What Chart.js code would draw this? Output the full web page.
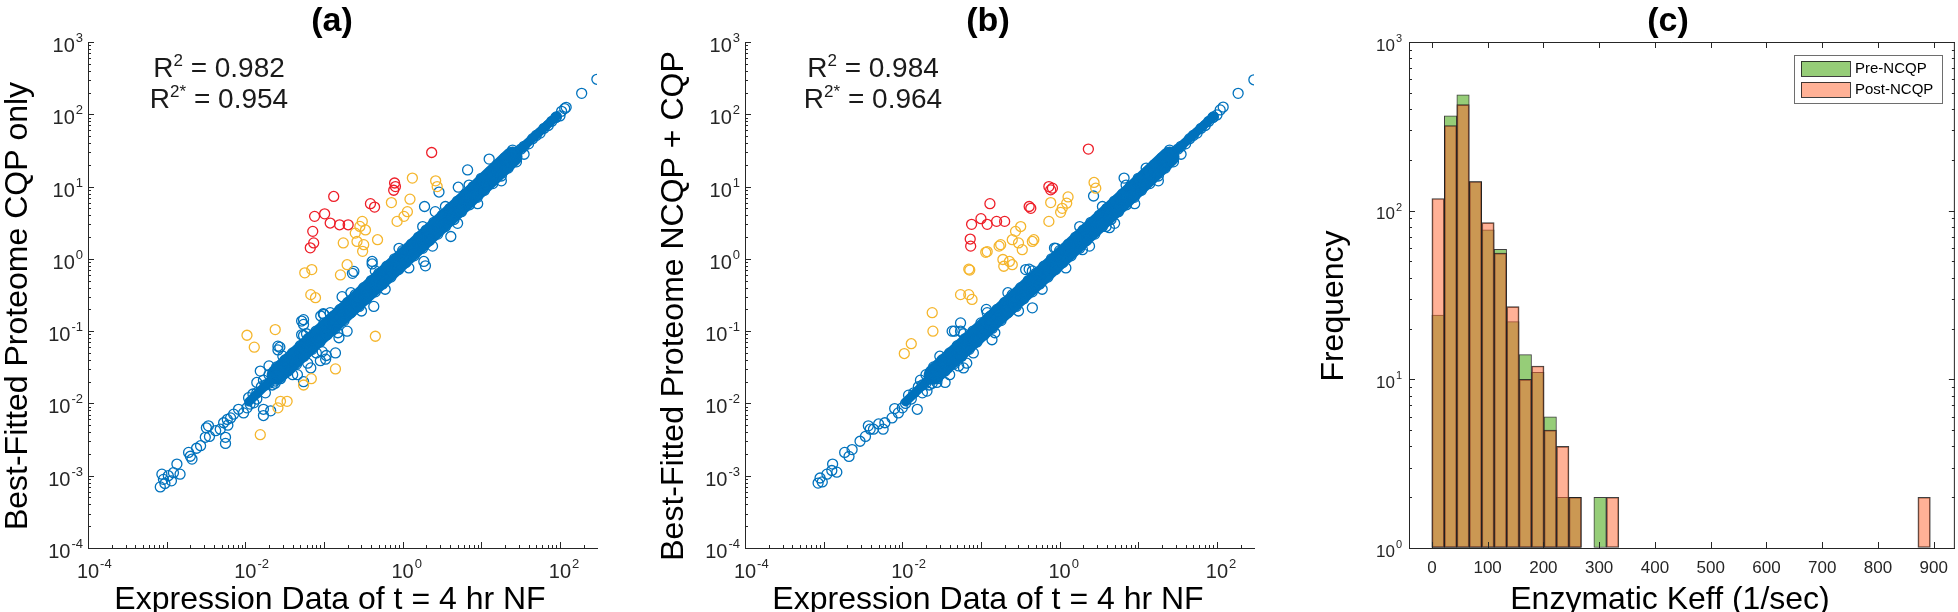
<!DOCTYPE html>
<html>
<head>
<meta charset="utf-8">
<script src="https://cdn.jsdelivr.net/npm/chart.js@4.4.1/dist/chart.umd.min.js"></script>
<style>
  html, body { margin: 0; padding: 0; background: #fff; }
  #wrap { position: relative; width: 1958px; height: 612px; overflow: hidden; }
  canvas { position: absolute; top: 0; }
</style>
</head>
<body>
<div id="wrap">
  <canvas id="chartA" width="650" height="612" style="left:0px"></canvas>
  <canvas id="chartB" width="650" height="612" style="left:650px"></canvas>
  <canvas id="chartC" width="658" height="612" style="left:1300px"></canvas>
</div>
<script>
// ---- data ----

// dense diagonal band, same expression data in (a) and (b)
const bandPoints = [
  [0.014,0.014],[0.016,0.017],[0.018,0.018],[0.020,0.019],[0.022,0.023],[0.025,0.025],[0.028,0.027],[0.032,0.032],[0.035,0.036],[0.040,0.040],[0.045,0.044],[0.050,0.051],[0.056,0.056],[0.063,0.062],[0.071,0.072],[0.079,0.079],[0.089,0.088],
  [0.10,0.10],[0.11,0.11],[0.13,0.13],[0.14,0.14],[0.16,0.16],[0.18,0.18],[0.20,0.20],[0.22,0.22],[0.25,0.25],[0.28,0.28],[0.32,0.32],[0.35,0.35],[0.40,0.40],[0.45,0.45],[0.50,0.50],[0.56,0.56],[0.63,0.63],[0.71,0.71],[0.79,0.79],[0.89,0.89],
  [1.0,1.0],[1.1,1.1],[1.3,1.3],[1.4,1.4],[1.6,1.6],[1.8,1.8],[2.0,2.0],[2.2,2.2],[2.5,2.5],[2.8,2.8],[3.2,3.2],[3.5,3.5],[4.0,4.0],[4.5,4.5],[5.0,5.0],[5.6,5.6],[6.3,6.3],[7.1,7.1],[7.9,7.9],[8.9,8.9],
  [10,10],[11,11],[13,13],[14,14],[16,16],[18,18],[20,20],[22,22],[25,25],[28,28],[32,33],[35,36],[40,39],[45,46],[50,51],[56,55],[63,64],[71,70],[79,80],[89,90],
  [0.020,0.025],[0.025,0.032],[0.032,0.040],[0.040,0.050],[0.050,0.063],[0.063,0.079],[0.079,0.10],
  [0.10,0.13],[0.13,0.16],[0.16,0.20],[0.20,0.25],[0.25,0.32],[0.32,0.40],[0.40,0.50],[0.50,0.63],[0.63,0.79],[0.79,1.0],
  [1.0,1.3],[1.3,1.6],[1.6,2.0],[2.0,2.5],[2.5,3.2],[3.2,4.0],[4.0,5.0],[5.0,6.3],[6.3,7.9],[7.9,10],
  [10,13],[13,16],[16,20],[20,25],[25,32],
  [0.018,0.014],[0.022,0.018],[0.028,0.022],[0.035,0.028],[0.045,0.035],[0.056,0.045],[0.071,0.056],[0.089,0.071],
  [0.11,0.089],[0.14,0.11],[0.18,0.14],[0.22,0.18],[0.28,0.22],[0.35,0.28],[0.45,0.35],[0.56,0.45],[0.71,0.56],[0.89,0.71],
  [1.1,0.89],[1.4,1.1],[1.8,1.4],[2.2,1.8],[2.8,2.2],[3.5,2.8],[4.5,3.5],[5.6,4.5],[7.1,5.6],[8.9,7.1],
  [11,8.9],[14,11],[18,14],[22,18],[28,22],[35,28],
  [0.03,0.045],[0.06,0.092],[0.12,0.18],[0.22,0.34],[0.45,0.68],[0.9,1.4],[1.8,2.8],[3.5,5.3],[7,10.5],
  [0.04,0.025],[0.08,0.05],[0.15,0.095],[0.3,0.19],[0.6,0.38],[1.2,0.75],[2.4,1.5],[5,3.1],[9,5.8],[18,12],
  [0.017,0.021],[0.024,0.019],[0.038,0.031],[0.066,0.08],[0.12,0.1],[0.27,0.3],[0.52,0.45],[1.5,1.75],[3,2.6],[6,6.8],[12,10.5],[26,29]
];
// ridge where hundreds of markers overlap into a solid stripe
const bandCore = [[0.025,0.025],[0.1,0.1],[1,1],[10,10.2],[25,26]];
const bandCoreEnds = [[0.011,0.0105],[0.025,0.025],[1,null],[25,26],[92,95]];

// (a) CQP only
const tailA = [
  [8.3e-4,7.0e-4],[9.1e-4,8.9e-4],[1.05e-3,1.0e-3],[1.22e-3,1.1e-3],[1.48e-3,1.05e-3],[1.35e-3,1.45e-3],[8.7e-4,1.05e-3],[1.15e-3,8.5e-4],[9.5e-4,7.8e-4],
  [2.0e-3,1.86e-3],[2.4e-3,2.4e-3],[1.9e-3,2.1e-3],[2.1e-3,1.7e-3],[2.7e-3,2.6e-3],[3.1e-3,3.4e-3],[3.5e-3,3.5e-3],[3.4e-3,4.9e-3],[4.2e-3,4.2e-3],[3.2e-3,4.6e-3],
  [4.8e-3,4.4e-3],[5.6e-3,3.4e-3],[5.3e-3,5.4e-3],[5.9e-3,6.0e-3],[6.5e-3,6.3e-3],[7.1e-3,7.1e-3],[8.2e-3,8.3e-3],[9.5e-3,7.4e-3],[1.05e-2,8.7e-3],
  [1.15e-2,9.8e-3],[1.28e-2,1.02e-2],[1.4e-2,1.15e-2],[6.0e-3,5.0e-3],[1.1e-2,1.2e-2],[1.25e-2,1.35e-2]
];
const blueA = [
  [295,305],[189,195],[100,95],[105,110],[115,120],[120,125],[90,92],
  [12.6,24],[6.7,17],[5.1,9.8],[2.9,8.4],[1.9,5.3],[2.6,4.5],[4.1,2.04],[1.86,0.92],[1.95,0.8],[0.41,0.92],[0.41,0.85],
  [0.24,0.67],[0.23,0.63],[0.17,0.30],[0.43,0.22],[0.055,0.144],[0.091,0.162],[0.1,0.17],[0.098,0.174],[0.052,0.138],[0.055,0.124],
  [0.197,0.1],[0.155,0.081],[0.052,0.089],[0.055,0.087],[0.0275,0.060],[0.026,0.062],[0.026,0.055],[0.095,0.052],[0.105,0.041],
  [0.062,0.036],[0.14,0.05],[0.09,0.039],[0.107,0.046],[0.068,0.031],[0.046,0.025],[0.055,0.02],[0.0155,0.028],[0.02,0.033],
  [0.024,0.0204],[0.014,0.0195],[0.017,0.0083],[0.021,0.0079],[0.017,0.0068],[5.6e-3,2.8e-3]
];
const yellowA = [
  [1.33,13.1],[2.63,12.0],[2.75,10.0],[1.24,6.7],[0.72,6.0],[1.15,4.5],[1.04,3.87],[0.85,3.3],[0.307,3.3],[0.286,2.81],
  [0.337,2.51],[0.25,2.27],[0.263,1.74],[0.32,1.57],[0.48,1.84],[0.31,1.27],[0.176,1.66],[0.197,0.83],[0.162,0.60],
  [0.057,0.64],[0.07,0.71],[0.068,0.32],[0.078,0.29],[0.45,0.085],[0.0105,0.0877],[0.013,0.060],[0.024,0.105],
  [0.14,0.030],[0.069,0.022],[0.055,0.018],[0.028,0.0107],[0.034,0.0107],[0.026,0.0087],[0.0155,0.0037]
];
const redA = [
  [2.34,29.6],[0.79,11.2],[0.81,10],[0.77,8.9],[0.39,5.8],[0.44,5.2],[0.133,7.3],[0.076,3.87],[0.102,4.2],
  [0.12,3.13],[0.158,2.96],[0.203,2.96],[0.072,2.4],[0.074,1.66],[0.067,1.42]
];
const r2A = ['0.982', '0.954'];

// (b) NCQP + CQP
const tailB = [
  [8.5e-4,7.9e-4],[9.0e-4,9.3e-4],[1.1e-3,1.05e-3],[1.27e-3,1.18e-3],[1.47e-3,1.12e-3],[1.3e-3,1.45e-3],[9.6e-4,8.2e-4],
  [1.85e-3,2.1e-3],[2.3e-3,2.3e-3],[2.1e-3,1.85e-3],[2.9e-3,3.0e-3],[3.4e-3,3.5e-3],[3.9e-3,4.4e-3],[4.3e-3,4.4e-3],[3.7e-3,4.9e-3],
  [5.7e-3,4.4e-3],[6.0e-3,5.4e-3],[7.4e-3,6.3e-3],[8.9e-3,7.4e-3],[1.0e-2,8.7e-3],[1.1e-2,1.0e-2],[1.3e-2,1.15e-2],[1.55e-2,8.3e-3],
  [5.0e-3,5.2e-3],[8.0e-3,8.5e-3],[1.2e-2,1.3e-2]
];
const blueB = [
  [295,300],[186,195],[110,115],[100,98],[120,126],[90,92],
  [6.6,13.1],[12.6,18],[2.7,7.4],[0.86,1.41],[0.37,0.71],[0.41,0.72],[0.45,0.21],[1.95,1.34],[0.117,0.20],
  [0.055,0.13],[0.046,0.10],[0.138,0.076],[3.9,2.8],[4.3,2.7],[0.060,0.031],[0.034,0.036],[0.0275,0.0195],
  [0.035,0.0195],[0.043,0.10],[0.055,0.10],[0.052,0.033],[0.066,0.036],[0.057,0.045],[0.0206,0.0148]
];
const yellowB = [
  [2.74,11.4],[2.88,9.5],[1.28,7.2],[1.23,5.9],[1.08,5.0],[1.03,4.4],[0.77,6.0],[0.73,3.3],[0.32,2.8],[0.275,2.4],
  [0.25,1.84],[0.30,1.66],[0.335,1.34],[0.45,1.74],[0.47,1.84],[0.178,1.57],[0.115,1.23],[0.19,0.98],[0.23,0.92],
  [0.25,0.83],[0.195,0.79],[0.07,0.72],[0.072,0.70],[0.055,0.32],[0.07,0.32],[0.077,0.275],[0.024,0.18],[0.0245,0.10],
  [0.013,0.067],[0.0106,0.049],[0.12,1.26],[0.17,1.5]
];
const redB = [
  [2.32,33],[0.73,10.0],[0.81,9.5],[0.77,9.0],[0.41,5.3],[0.43,5.0],[0.13,5.8],[0.076,3.0],[0.10,3.6],
  [0.12,3.0],[0.158,3.3],[0.20,3.3],[0.073,1.88],[0.074,1.5]
];
const r2B = ['0.984', '0.964'];

// (c) histogram of Keff, bin centres (bin width ~22.35)
const binCenters = [11.2, 33.5, 55.9, 78.2, 100.6, 122.9, 145.3, 167.6, 190.0, 212.3, 234.7, 257.0, 301.7, 324.1, 882.8];
const preCounts  = [24, 365, 486, 149, 77, 59, 22, 14, 11, 6, 2, 2, 2, null, null];
const postCounts = [118, 320, 425, 149, 85, 56, 27, 10, 12, 5, 4, 2, null, 2, 2];
const histLabels = ['Pre-NCQP', 'Post-NCQP'];

// ---- styling ----
const FONT = '"Liberation Sans", Arial, Helvetica, sans-serif';
const AXIS_COLOR = '#262626';
const BLUE = 'rgb(0,114,189)';
const YELLOW = 'rgb(245,182,45)';
const RED = 'rgb(238,30,40)';
const GREEN = 'rgb(150,205,120)';
const PINK = 'rgba(255,100,45,0.5)';
const EDGE = 'rgba(30,30,30,0.85)';

function decadeOf(v) {
  const e = Math.log10(v);
  return Math.abs(e - Math.round(e)) < 1e-6 ? Math.round(e) : null;
}
function isNiceLogTick(v) {
  const e = Math.floor(Math.log10(v) + 1e-9);
  const m = v / Math.pow(10, e);
  return Math.abs(m - Math.round(m)) < 1e-6;
}
const toXY = list => list.map(p => ({x: p[0], y: p[1]}));

// inward tick marks (MATLAB style), optional full box
const inwardTicks = {
  id: 'inwardTicks',
  afterDraw(chart, args, opts) {
    const {ctx, chartArea: a} = chart;
    const xs = chart.scales.x, ys = chart.scales.y;
    ctx.save();
    ctx.strokeStyle = AXIS_COLOR;
    ctx.lineWidth = 1;
    ctx.beginPath();
    xs.ticks.forEach(t => {
      let len = 6;
      if (xs.type === 'logarithmic') {
        if (!isNiceLogTick(t.value)) return;
        len = decadeOf(t.value) === null ? 3 : 6;
      }
      const px = Math.round(xs.getPixelForValue(t.value)) + 0.5;
      ctx.moveTo(px, a.bottom); ctx.lineTo(px, a.bottom - len);
      if (opts.box) { ctx.moveTo(px, a.top); ctx.lineTo(px, a.top + len); }
    });
    ys.ticks.forEach(t => {
      if (!isNiceLogTick(t.value)) return;
      const len = decadeOf(t.value) === null ? 3 : 6;
      const py = Math.round(ys.getPixelForValue(t.value)) + 0.5;
      ctx.moveTo(a.left, py); ctx.lineTo(a.left + len, py);
      if (opts.box) { ctx.moveTo(a.right, py); ctx.lineTo(a.right - len, py); }
    });
    if (opts.box) {
      ctx.moveTo(a.left, a.top + 0.5); ctx.lineTo(a.right, a.top + 0.5);
      ctx.moveTo(a.right - 0.5, a.top); ctx.lineTo(a.right - 0.5, a.bottom);
    }
    ctx.stroke();
    ctx.restore();
  }
};

// 10^n tick labels with a real raised exponent, at the log scales' decade ticks
const powerLabels = {
  id: 'powerLabels',
  afterDraw(chart, args, o) {
    const {ctx, chartArea: a} = chart;
    const big = o.size + 'px ' + FONT, small = Math.round(o.size * 0.66) + 'px ' + FONT;
    ctx.save();
    ctx.fillStyle = AXIS_COLOR;
    ctx.textAlign = 'left';
    ctx.textBaseline = 'alphabetic';
    ['x', 'y'].forEach(id => {
      const s = chart.scales[id];
      if (s.type !== 'logarithmic') return;
      s.ticks.forEach(t => {
        const e = decadeOf(t.value);
        if (e === null || e % o[id + 'Step'] !== 0) return;
        const exp = String(e);
        ctx.font = big; const w1 = ctx.measureText('10').width;
        ctx.font = small; const w2 = ctx.measureText(exp).width;
        let x0, base;
        if (id === 'x') {
          x0 = s.getPixelForValue(t.value) - w1 / 2;
          base = a.bottom + o.xBase;
        } else {
          x0 = a.left - o.yGap - w1 - w2 - 1;
          base = s.getPixelForValue(t.value) + o.size * 0.5;
        }
        ctx.font = big; ctx.fillText('10', x0, base);
        ctx.font = small; ctx.fillText(exp, x0 + w1 + 1, base - o.size * 0.5);
      });
    });
    ctx.restore();
  }
};

function drawSupLine(ctx, parts, cx, baseline, size) {
  const big = size + 'px ' + FONT, small = Math.round(size * 0.62) + 'px ' + FONT;
  let total = 0;
  parts.forEach(p => { ctx.font = p[1] ? small : big; total += ctx.measureText(p[0]).width; });
  let x = cx - total / 2;
  ctx.textAlign = 'left';
  ctx.textBaseline = 'alphabetic';
  parts.forEach(p => {
    ctx.font = p[1] ? small : big;
    ctx.fillText(p[0], x, p[1] ? baseline - size * 0.4 : baseline);
    x += ctx.measureText(p[0]).width;
  });
}

// titles, axis titles, R^2 notes, legend
const panelText = {
  id: 'panelText',
  afterDraw(chart, args, o) {
    const ctx = chart.ctx;
    ctx.save();
    ctx.fillStyle = '#000';
    ctx.textAlign = 'center';
    ctx.textBaseline = 'middle';
    ctx.font = 'bold 34px ' + FONT;
    ctx.fillText(o.title, o.titleX, 22);

    ctx.textBaseline = 'alphabetic';
    ctx.font = '32px ' + FONT;
    ctx.fillText(o.xTitle, o.xTitleX, 609);
    ctx.save();
    ctx.translate(o.yTitleX, 306);
    ctx.rotate(-Math.PI / 2);
    ctx.fillText(o.yTitle, 0, 0);
    ctx.restore();

    if (o.r2) {
      ctx.fillStyle = '#1a1a1a';
      drawSupLine(ctx, [['R', 0], ['2', 1], [' = ' + o.r2[0], 0]], o.r2X, 77, 28);
      drawSupLine(ctx, [['R', 0], ['2*', 1], [' = ' + o.r2[1], 0]], o.r2X, 108, 28);
    }

    if (o.legend) {
      const L = o.legend;
      ctx.fillStyle = '#fff';
      ctx.fillRect(L.x, L.y, L.w, L.h);
      ctx.strokeStyle = '#6e6e6e';
      ctx.lineWidth = 1;
      ctx.strokeRect(L.x + 0.5, L.y + 0.5, L.w, L.h);
      const ds = chart.data.datasets;
      L.order.forEach((di, i) => {
        const sy = L.y + 6 + i * 21;
        ctx.fillStyle = ds[di].backgroundColor;
        ctx.fillRect(L.x + 7, sy, 49, 15);
        ctx.strokeStyle = EDGE;
        ctx.strokeRect(L.x + 7.5, sy + 0.5, 49, 15);
        ctx.fillStyle = '#000';
        ctx.font = '15px ' + FONT;
        ctx.textAlign = 'left';
        ctx.textBaseline = 'middle';
        ctx.fillText(ds[di].label, L.x + 61, sy + 8);
      });
    }
    ctx.restore();
  }
};

function logAxis(min, max, fitSize, horizontal) {
  return {
    type: 'logarithmic',
    min: min,
    max: max,
    afterFit: s => { if (horizontal) s.height = fitSize; else s.width = fitSize; },
    grid: { drawOnChartArea: false, drawTicks: false },
    border: { color: AXIS_COLOR, width: 1 },
    ticks: { display: false, autoSkip: false }
  };
}

function scatterChart(id, red, yellow, blue, text, leftW, rightPad) {
  return new Chart(document.getElementById(id), {
    type: 'scatter',
    data: {
      datasets: [
        { label: 'red', data: toXY(red), borderColor: RED },
        { label: 'yellow', data: toXY(yellow), borderColor: YELLOW },
        { label: 'blue', data: toXY(blue), borderColor: BLUE },
        { label: 'core', data: toXY(bandCore), showLine: true, borderColor: BLUE, borderWidth: 20,
          borderCapStyle: 'round', borderJoinStyle: 'round', pointRadius: 0, pointBorderWidth: 0 },
        { label: 'coreEnds', data: toXY(bandCoreEnds), showLine: true, borderColor: BLUE, borderWidth: 9,
          borderCapStyle: 'round', borderJoinStyle: 'round', pointRadius: 0, pointBorderWidth: 0 }
      ]
    },
    options: {
      responsive: false, animation: false, devicePixelRatio: 1, events: [],
      layout: { padding: { left: 0, right: rightPad, top: 42, bottom: 0 } },
      elements: { point: { radius: 5, hoverRadius: 5, borderWidth: 1.3, backgroundColor: 'rgba(0,0,0,0)' } },
      scales: {
        x: logAxis(1e-4, 296, 64, true),
        y: logAxis(1e-4, 1e3, leftW, false)
      },
      plugins: {
        legend: { display: false }, tooltip: { enabled: false },
        inwardTicks: { box: false },
        powerLabels: { size: 20, xStep: 2, yStep: 1, xBase: 30, yGap: 5 },
        panelText: text
      }
    },
    plugins: [inwardTicks, powerLabels, panelText]
  });
}

scatterChart('chartA', redA, yellowA, bandPoints.concat(tailA, blueA), {
  title: '(a)', titleX: 332,
  xTitle: 'Expression Data of t = 4 hr NF', xTitleX: 330,
  yTitle: 'Best-Fitted Proteome CQP only', yTitleX: 27,
  r2: r2A, r2X: 219
}, 88, 53);

scatterChart('chartB', redB, yellowB, bandPoints.concat(tailB, blueB), {
  title: '(b)', titleX: 338,
  xTitle: 'Expression Data of t = 4 hr NF', xTitleX: 338,
  yTitle: 'Best-Fitted Proteome NCQP + CQP', yTitleX: 33,
  r2: r2B, r2X: 223
}, 95, 46);

new Chart(document.getElementById('chartC'), {
  type: 'bar',
  data: {
    datasets: [
      { label: histLabels[0], data: binCenters.map((x, i) => ({x: x, y: preCounts[i]})), backgroundColor: GREEN, order: 2 },
      { label: histLabels[1], data: binCenters.map((x, i) => ({x: x, y: postCounts[i]})), backgroundColor: PINK, order: 1 }
    ]
  },
  options: {
    responsive: false, animation: false, devicePixelRatio: 1, events: [],
    layout: { padding: { left: 0, right: 3, top: 42, bottom: 0 } },
    datasets: {
      bar: { grouped: false, barPercentage: 1, categoryPercentage: 1, borderWidth: 1, borderColor: EDGE, borderSkipped: false, base: 1 }
    },
    scales: {
      x: {
        type: 'linear', min: -41, max: 938, offset: false,
        afterFit: s => { s.height = 64; },
        grid: { drawOnChartArea: false, drawTicks: false, offset: false },
        border: { color: AXIS_COLOR, width: 1 },
        ticks: { stepSize: 100, includeBounds: false, maxRotation: 0, padding: 10, color: AXIS_COLOR, font: { family: FONT, size: 17 } }
      },
      y: logAxis(1, 1000, 109, false)
    },
    plugins: {
      legend: { display: false }, tooltip: { enabled: false },
      inwardTicks: { box: true },
      powerLabels: { size: 17, xStep: 1, yStep: 1, xBase: 26, yGap: 7 },
      panelText: {
        title: '(c)', titleX: 368,
        xTitle: 'Enzymatic Keff (1/sec)', xTitleX: 370,
        yTitle: 'Frequency', yTitleX: 43,
        legend: { x: 494, y: 55, w: 148, h: 48, order: [0, 1] }
      }
    }
  },
  plugins: [inwardTicks, powerLabels, panelText]
});
</script>
</body>
</html>
